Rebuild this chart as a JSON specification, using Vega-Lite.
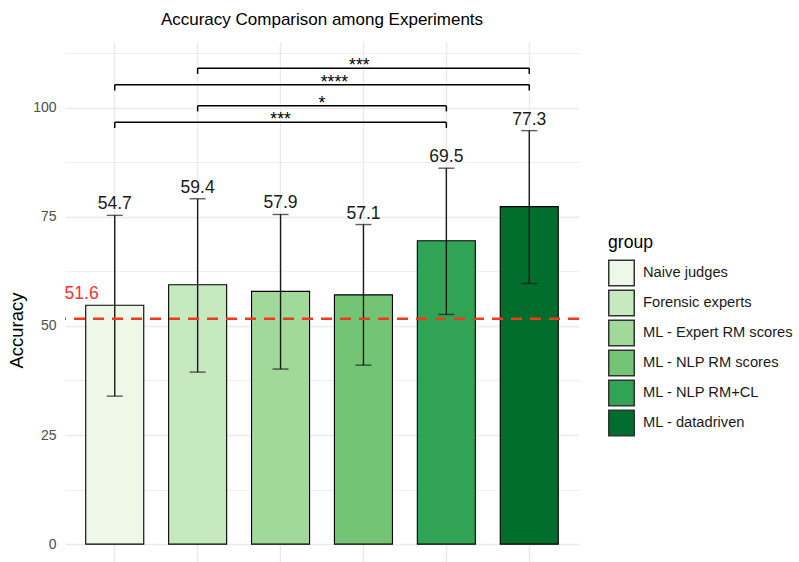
{
  "$schema": "https://vega.github.io/schema/vega-lite/v6.json",
  "width": 514,
  "height": 524,
  "autosize": "none",
  "padding": {"left": 65, "top": 42, "right": 220, "bottom": 0},
  "config": {"font": "Liberation Sans", "view": {"stroke": null}},
  "title": {"text": "Accuracy Comparison among Experiments", "fontSize": 17, "fontWeight": "normal", "color": "#000000", "anchor": "middle", "frame": "group", "baseline": "alphabetic", "offset": 14, "dy": 14},
  "datasets": {
    "bars": [
      {"group": "Naive judges", "accuracy": 54.7, "lo": 33.9, "hi": 75.3},
      {"group": "Forensic experts", "accuracy": 59.4, "lo": 39.4, "hi": 79.1},
      {"group": "ML - Expert RM scores", "accuracy": 57.9, "lo": 40.1, "hi": 75.5},
      {"group": "ML - NLP RM scores", "accuracy": 57.1, "lo": 41.0, "hi": 73.2},
      {"group": "ML - NLP RM+CL", "accuracy": 69.5, "lo": 52.6, "hi": 86.1},
      {"group": "ML - datadriven", "accuracy": 77.3, "lo": 59.7, "hi": 94.7}
    ],
    "brackets": [
      {"from": 1, "to": 5, "y": 96.6, "tip": 95.3, "label": "***", "labelpos": 3.0},
      {"from": 2, "to": 5, "y": 100.4, "tip": 99.1, "label": "*", "labelpos": 3.5},
      {"from": 1, "to": 6, "y": 105.2, "tip": 103.9, "label": "****", "labelpos": 3.65},
      {"from": 2, "to": 6, "y": 109.0, "tip": 107.7, "label": "***", "labelpos": 3.95}
    ],
    "ref": [{"value": 51.6, "pos": 0.6, "label": "51.6"}]
  },
  "layer": [
    {
      "data": {"name": "bars"},
      "layer": [
        {
          "mark": {"type": "bar", "stroke": "#000000", "strokeWidth": 1.1},
          "encoding": {
            "x": {"field": "group", "type": "nominal", "sort": ["Naive judges", "Forensic experts", "ML - Expert RM scores", "ML - NLP RM scores", "ML - NLP RM+CL", "ML - datadriven"],
              "scale": {"paddingInner": 0.3, "paddingOuter": 0.25},
              "axis": {"title": null, "labels": false, "ticks": false, "domain": false, "grid": true, "gridColor": "#EBEBEB", "gridWidth": 1.5}},
            "y": {"field": "accuracy", "type": "quantitative", "title": "Accuracy",
              "scale": {"domain": [-5, 115], "nice": false, "zero": false},
              "axis": {"values": [0, 12.5, 25, 37.5, 50, 62.5, 75, 87.5, 100, 112.5],
                "labelExpr": "datum.value % 25 === 0 ? datum.label : ''",
                "grid": true, "gridColor": "#EBEBEB",
                "gridWidth": {"condition": {"test": "datum.value % 25 === 0", "value": 1.5}, "value": 0.8},
                "ticks": false, "domain": false, "labelFontSize": 14, "labelColor": "#4D4D4D", "labelPadding": 9,
                "titleFontSize": 18.5, "titleFontWeight": "normal", "titleColor": "#000000", "titlePadding": 6, "titleY": 288}},
            "color": {"field": "group", "type": "nominal",
              "scale": {"domain": ["Naive judges", "Forensic experts", "ML - Expert RM scores", "ML - NLP RM scores", "ML - NLP RM+CL", "ML - datadriven"],
                "range": ["#EDF8E9", "#C7E9C0", "#A1D99B", "#74C476", "#31A354", "#006D2C"]},
              "legend": {"title": "group", "orient": "none", "legendX": 543, "legendY": 192,
                "titleFontSize": 17.6, "titleFontWeight": "normal", "titleColor": "#000000", "titlePadding": 8,
                "labelFontSize": 14.7, "labelColor": "#1A1A1A", "labelOffset": 8,
                "symbolType": "square", "symbolSize": 650, "symbolStrokeColor": "#333333", "symbolStrokeWidth": 1.5,
                "rowPadding": -9.5}}
          }
        },
        {
          "mark": {"type": "rule", "color": "#1A1A1A", "strokeWidth": 1.4},
          "encoding": {
            "x": {"field": "group", "type": "nominal", "sort": ["Naive judges", "Forensic experts", "ML - Expert RM scores", "ML - NLP RM scores", "ML - NLP RM+CL", "ML - datadriven"]},
            "y": {"field": "lo", "type": "quantitative", "title": "Accuracy"},
            "y2": {"field": "hi"}
          }
        },
        {
          "mark": {"type": "tick", "color": "#1A1A1A", "thickness": 1.4, "size": 16},
          "encoding": {
            "x": {"field": "group", "type": "nominal", "sort": ["Naive judges", "Forensic experts", "ML - Expert RM scores", "ML - NLP RM scores", "ML - NLP RM+CL", "ML - datadriven"]},
            "y": {"field": "lo", "type": "quantitative", "title": "Accuracy"}
          }
        },
        {
          "mark": {"type": "tick", "color": "#1A1A1A", "thickness": 1.4, "size": 16},
          "encoding": {
            "x": {"field": "group", "type": "nominal", "sort": ["Naive judges", "Forensic experts", "ML - Expert RM scores", "ML - NLP RM scores", "ML - NLP RM+CL", "ML - datadriven"]},
            "y": {"field": "hi", "type": "quantitative", "title": "Accuracy"}
          }
        },
        {
          "mark": {"type": "text", "fontSize": 17.5, "color": "#1A1A1A", "baseline": "alphabetic", "dy": -6},
          "encoding": {
            "x": {"field": "group", "type": "nominal", "sort": ["Naive judges", "Forensic experts", "ML - Expert RM scores", "ML - NLP RM scores", "ML - NLP RM+CL", "ML - datadriven"]},
            "y": {"field": "hi", "type": "quantitative", "title": "Accuracy"},
            "text": {"field": "accuracy", "type": "quantitative", "format": ".1f"}
          }
        }
      ]
    },
    {
      "layer": [
        {
          "data": {"name": "ref"},
          "mark": {"type": "rule", "color": "#EE3B1F", "strokeWidth": 2.5, "strokeDash": [11, 8]},
          "encoding": {"y": {"field": "value", "type": "quantitative", "title": "Accuracy"}}
        },
        {
          "data": {"name": "ref"},
          "mark": {"type": "text", "fontSize": 17.5, "color": "#FF3030", "baseline": "alphabetic", "dy": -20},
          "encoding": {
            "x": {"field": "pos", "type": "quantitative", "scale": {"domain": [0.4, 6.6], "nice": false, "zero": false}, "axis": null},
            "y": {"field": "value", "type": "quantitative", "title": "Accuracy"},
            "text": {"field": "label"}
          }
        },
        {
          "data": {"name": "brackets"},
          "mark": {"type": "rule", "color": "#000000", "strokeWidth": 1.5},
          "encoding": {
            "x": {"field": "from", "type": "quantitative", "scale": {"domain": [0.4, 6.6], "nice": false, "zero": false}, "axis": null},
            "x2": {"field": "to"},
            "y": {"field": "y", "type": "quantitative", "title": "Accuracy"}
          }
        },
        {
          "data": {"name": "brackets"},
          "mark": {"type": "rule", "color": "#000000", "strokeWidth": 1.5},
          "encoding": {
            "x": {"field": "from", "type": "quantitative"},
            "y": {"field": "y", "type": "quantitative", "title": "Accuracy"},
            "y2": {"field": "tip"}
          }
        },
        {
          "data": {"name": "brackets"},
          "mark": {"type": "rule", "color": "#000000", "strokeWidth": 1.5},
          "encoding": {
            "x": {"field": "to", "type": "quantitative"},
            "y": {"field": "y", "type": "quantitative", "title": "Accuracy"},
            "y2": {"field": "tip"}
          }
        },
        {
          "data": {"name": "brackets"},
          "mark": {"type": "text", "fontSize": 17.5, "color": "#000000", "baseline": "alphabetic", "dy": 3},
          "encoding": {
            "x": {"field": "labelpos", "type": "quantitative"},
            "y": {"field": "y", "type": "quantitative", "title": "Accuracy"},
            "text": {"field": "label"}
          }
        }
      ]
    }
  ],
  "resolve": {"scale": {"x": "independent"}}
}
